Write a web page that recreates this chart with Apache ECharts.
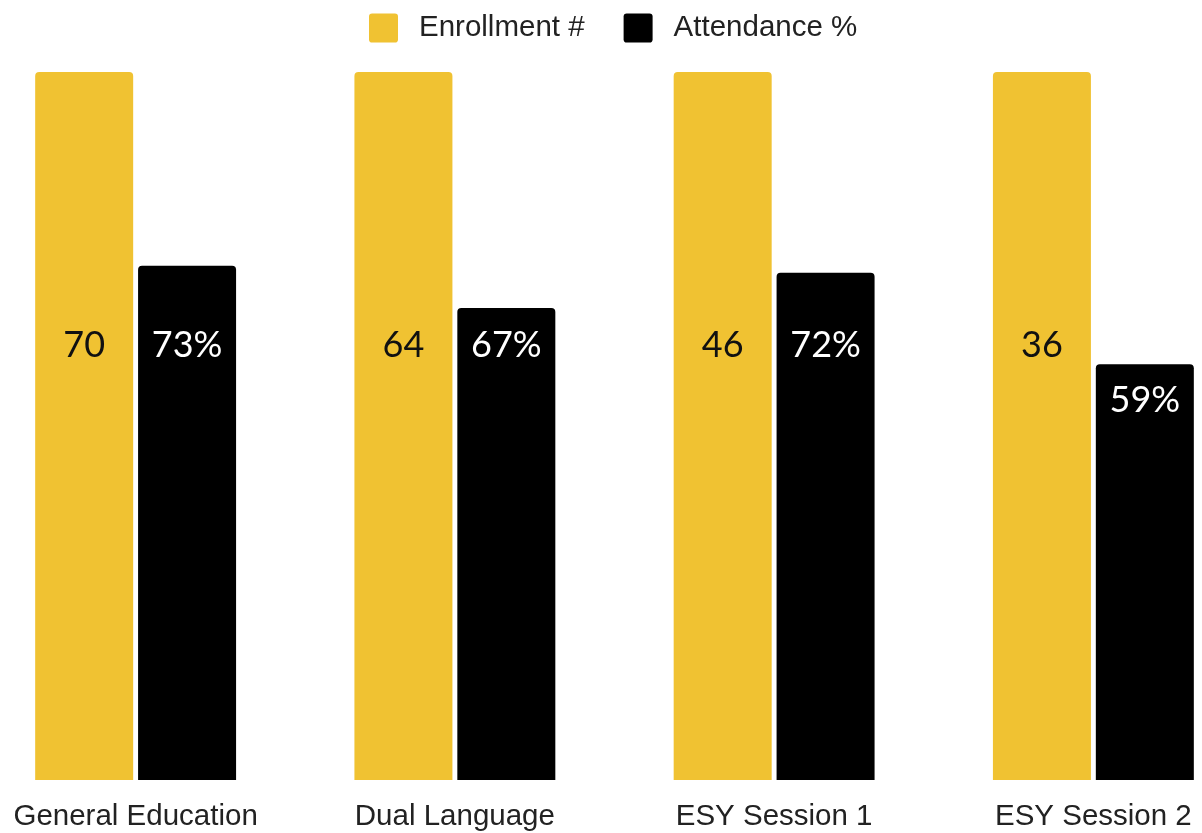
<!DOCTYPE html>
<html>
<head>
<meta charset="utf-8">
<script src="https://cdn.jsdelivr.net/npm/echarts@6/dist/echarts.min.js"></script>
<style>
html,body{margin:0;padding:0;background:#fff;}
#chart{width:1202px;height:833px;}
</style>
</head>
<body>
<div id="chart"></div>
<script>
const categories = ['General Education', 'Dual Language', 'ESY Session 1', 'ESY Session 2'];
const enrollment = [70, 64, 46, 36];
const attendance = [73, 67, 72, 59];
const seriesNames = ['Enrollment #', 'Attendance %'];
const labelLevel = 61.7; // attendance-axis value where labels sit

const YELLOW = '#F0C232';
const chart = echarts.init(document.getElementById('chart'));
const SQ = 'path://M3,0 H25 A3,3 0 0 1 28,3 V25 A3,3 0 0 1 25,28 H3 A3,3 0 0 1 0,25 V3 A3,3 0 0 1 3,0 Z';

const option = {
  animation: false,
  backgroundColor: '#ffffff',
  legend: {
    left: 364, top: 8,
    itemWidth: 29, itemHeight: 29, itemGap: 39,
    icon: SQ,
    textStyle: { fontFamily: 'Liberation Sans', fontSize: 29.5, color: '#222', padding: [0, 0, 0, 16] },
    data: seriesNames
  },
  grid: { left: -24, right: -51, top: 72, bottom: 53, containLabel: false, outerBoundsMode: 'none' },
  xAxis: {
    type: 'category', data: categories,
    axisLine: { show: false }, axisTick: { show: false },
    axisLabel: { fontFamily: 'Liberation Sans', fontSize: 29.5, color: '#222', margin: 22 }
  },
  yAxis: [
    { type: 'value', min: 0, max: Math.min(...enrollment), show: false, splitLine: { show: false } },
    { type: 'value', min: 0, max: 100.5, show: false, splitLine: { show: false } }
  ],
  series: [
    {
      name: seriesNames[0], type: 'bar', yAxisIndex: 0, clip: true,
      data: enrollment, barWidth: 98, barGap: '5%',
      itemStyle: { color: YELLOW, borderRadius: [4, 4, 0, 0] },
      label: { show: true, color: '#111', fontFamily: 'Lato', fontSize: 36 }
    },
    {
      name: seriesNames[1], type: 'bar', yAxisIndex: 1,
      data: attendance, barWidth: 98, barGap: '5%',
      itemStyle: { color: '#000000', borderRadius: [4, 4, 0, 0] },
      label: { show: true, color: '#fff', fontFamily: 'Lato', fontSize: 36, formatter: '{c}%' }
    }
  ]
};
chart.setOption(option);

// place labels at a common level (or just below the bar top when the bar is short)
const levelY = chart.convertToPixel({ yAxisIndex: 1 }, labelLevel);
const gridTop = chart.convertToPixel({ yAxisIndex: 0 }, Math.min(...enrollment));
function lbl(topY) {
  const y = Math.max(levelY, topY + 36);
  return { position: ['50%', y - topY], align: 'center', verticalAlign: 'middle' };
}
chart.setOption({
  series: [
    { data: enrollment.map(v => ({ value: v, label: lbl(Math.max(gridTop, chart.convertToPixel({ yAxisIndex: 0 }, v))) })) },
    { data: attendance.map(v => ({ value: v, label: lbl(chart.convertToPixel({ yAxisIndex: 1 }, v)) })) }
  ]
});
</script>
</body>
</html>
